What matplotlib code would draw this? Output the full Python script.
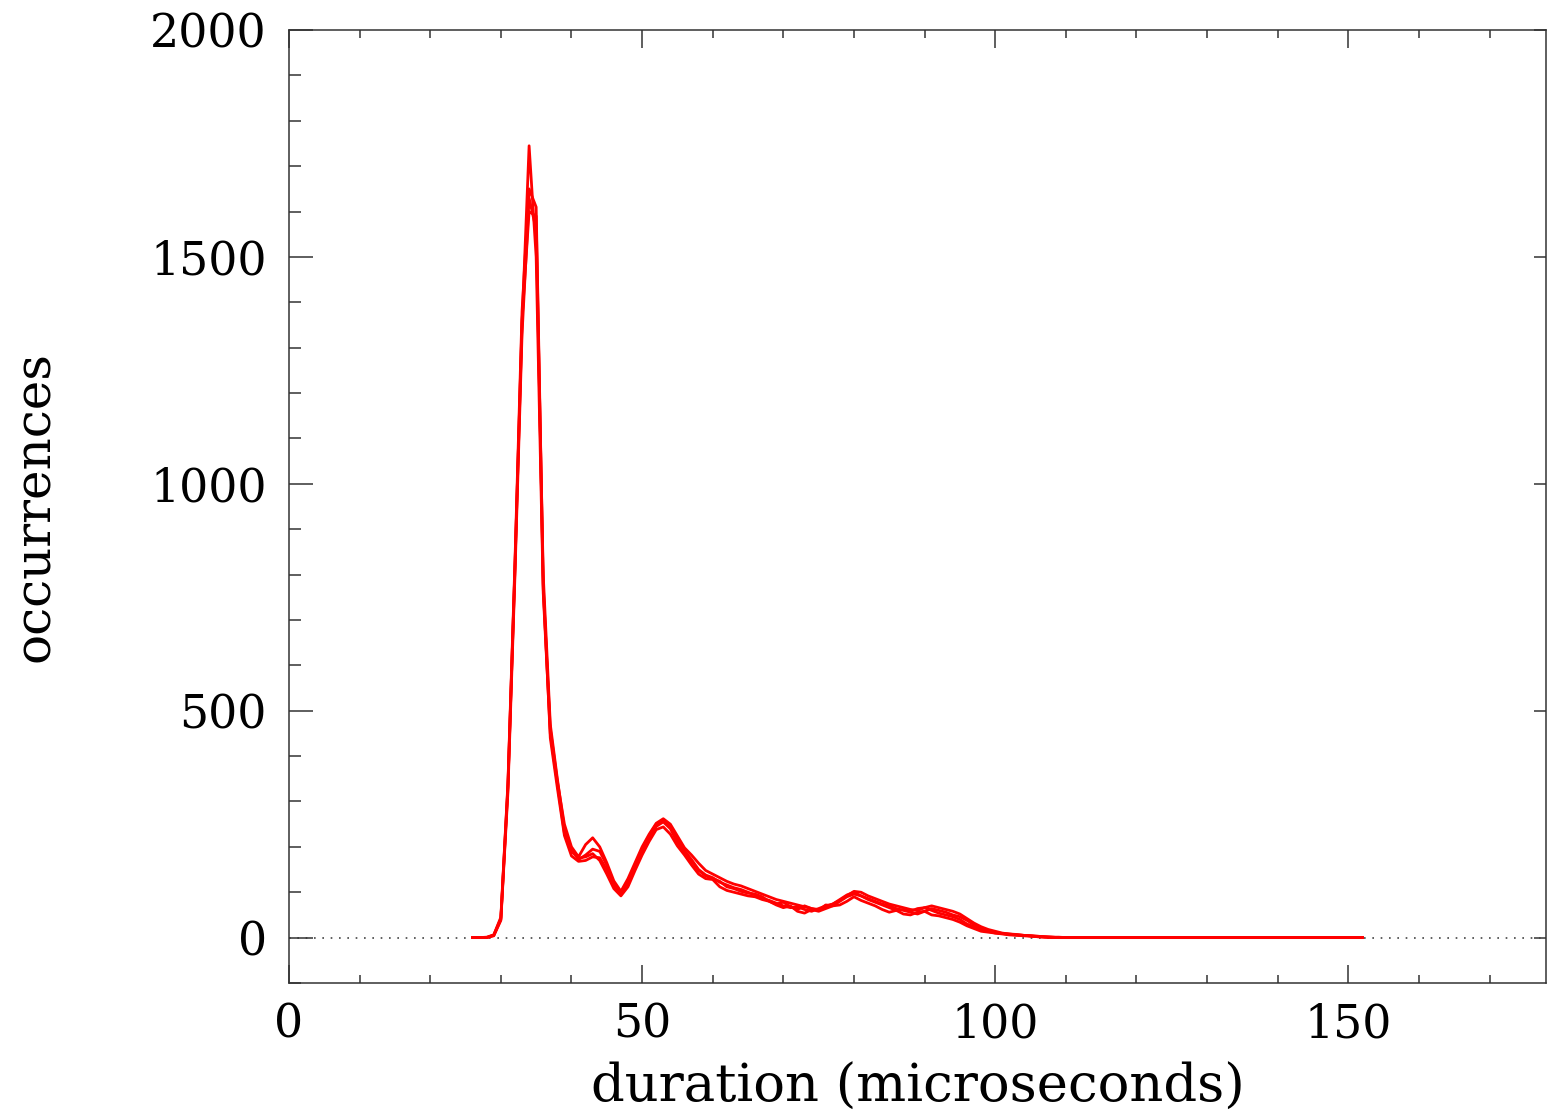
import numpy as np
import matplotlib
matplotlib.use("Agg")
import matplotlib.pyplot as plt
from matplotlib.ticker import MultipleLocator

# histogram bins (microseconds); bins past 110 are all empty up to 152
duration = list(range(26, 111)) + [152]

run_a = [0, 0, 0, 5, 40, 330, 820, 1350, 1745, 1500,
         760, 450, 340, 230, 190, 175, 178, 185, 170, 140,
         108, 92, 112, 148, 182, 212, 238, 244, 228, 202,
         182, 160, 140, 130, 128, 112, 104, 100, 96, 92,
         90, 84, 80, 72, 66, 70, 58, 54, 62, 58,
         64, 70, 72, 80, 90, 82, 76, 70, 62, 56,
         60, 52, 50, 56, 58, 50, 48, 44, 40, 34,
         26, 20, 14, 12, 10, 8, 6, 5, 4, 3,
         2, 1, 0, 0, 0,
         0]
run_b = [0, 0, 1, 6, 45, 340, 830, 1380, 1650, 1610,
         780, 440, 330, 225, 180, 168, 170, 178, 176, 150,
         115, 95, 118, 155, 190, 220, 245, 255, 240, 210,
         188, 168, 148, 136, 130, 124, 112, 108, 102, 98,
         96, 90, 80, 74, 78, 68, 62, 70, 64, 60,
         72, 70, 80, 90, 96, 92, 84, 78, 72, 66,
         60, 62, 58, 64, 66, 60, 54, 50, 46, 40,
         30, 24, 18, 14, 10, 9, 7, 6, 5, 4,
         2, 1, 1, 0, 0,
         0]
run_c = [0, 0, 0, 4, 38, 320, 800, 1330, 1630, 1560,
         800, 470, 350, 240, 195, 172, 182, 195, 190, 160,
         120, 98, 125, 160, 195, 225, 250, 258, 245, 218,
         192, 172, 150, 138, 132, 122, 116, 110, 106, 100,
         94, 86, 82, 76, 70, 66, 68, 62, 58, 64,
         70, 74, 84, 94, 100, 92, 86, 80, 74, 70,
         64, 60, 56, 52, 58, 64, 60, 56, 50, 46,
         38, 28, 20, 16, 12, 9, 8, 6, 5, 4,
         3, 2, 1, 0, 0,
         0]
run_d = [0, 0, 0, 6, 42, 335, 815, 1360, 1600, 1590,
         770, 460, 345, 250, 200, 178, 205, 220, 200, 165,
         125, 102, 130, 165, 200, 228, 252, 262, 250, 224,
         198, 182, 164, 148, 140, 132, 124, 118, 114, 108,
         102, 96, 90, 84, 80, 76, 72, 68, 64, 62,
         68, 74, 82, 92, 102, 100, 92, 86, 80, 74,
         70, 66, 62, 60, 66, 70, 66, 62, 58, 52,
         42, 32, 24, 18, 14, 10, 8, 7, 5, 4,
         3, 2, 1, 1, 0,
         0]

runs = [run_a, run_b, run_c, run_d]

plt.rcParams['font.family'] = ['DejaVu Serif']

fig = plt.figure(figsize=(15.47, 11.14), dpi=100)
ax = fig.add_axes([0.1868, 0.1176, 0.8126, 0.8554])

ax.axhline(0, color='#444444', lw=1.2, ls=(0, (1, 4)), zorder=1)
for r in runs:
    ax.plot(duration, r, color='#ff0000', lw=2.0, zorder=3)

ax.set_xlim(0, 178)
ax.set_ylim(-100, 2000)
ax.xaxis.set_major_locator(MultipleLocator(50))
ax.xaxis.set_minor_locator(MultipleLocator(10))
ax.yaxis.set_major_locator(MultipleLocator(500))
ax.yaxis.set_minor_locator(MultipleLocator(100))

ax.tick_params(axis='x', which='both', direction='in', top=True, bottom=True,
               color='#333333', width=1.1)
ax.tick_params(axis='x', which='major', length=13, pad=14, labelsize=33)
ax.tick_params(axis='x', which='minor', length=5.8)
ax.tick_params(axis='y', which='both', direction='in', left=True, right=False,
               color='#333333', width=1.1)
ax.tick_params(axis='y', which='major', length=17, pad=16, labelsize=33)
ax.tick_params(axis='y', which='minor', length=8.5)

sec = ax.secondary_yaxis('right')
sec.yaxis.set_major_locator(MultipleLocator(500))
sec.yaxis.set_minor_locator(MultipleLocator(100))
sec.tick_params(which='major', direction='in', length=8.5, width=1.1,
                color='#333333', labelright=False)
sec.tick_params(which='minor', length=0)
sec.spines['right'].set_visible(False)

for s in ax.spines.values():
    s.set_color('#333333')
    s.set_linewidth(1.1)

ax.set_xlabel("duration (microseconds)", fontsize=38, va='top')
ax.set_ylabel("occurrences", fontsize=36)
ax.xaxis.set_label_coords(0.5, -0.083)
ax.yaxis.set_label_coords(-0.182, 0.5)

fig.savefig("out.png", dpi=100)
